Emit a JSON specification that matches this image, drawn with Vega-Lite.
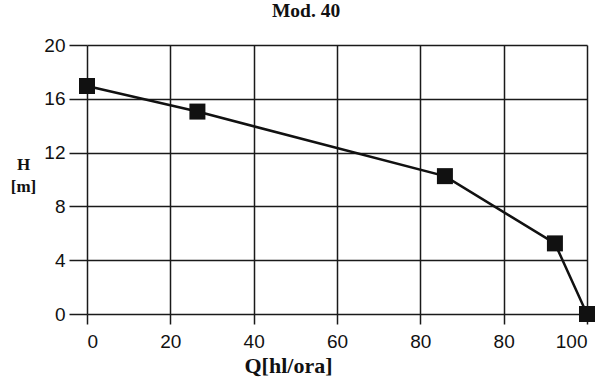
{
  "$schema": "https://vega.github.io/schema/vega-lite/v6.json",
  "width": 500,
  "height": 269,
  "autosize": {"type": "none"},
  "padding": {"left": 87, "top": 45, "right": 19, "bottom": 64},
  "background": "white",
  "title": {
    "text": "Mod. 40",
    "font": "Liberation Serif",
    "fontSize": 19.5,
    "fontWeight": "bold",
    "color": "#111",
    "anchor": "middle",
    "dx": -31,
    "offset": 15
  },
  "config": {
    "view": {"stroke": null},
    "axis": {
      "labelFont": "Liberation Sans",
      "labelFontSize": 19,
      "labelColor": "#111",
      "gridColor": "#1a1a1a",
      "gridWidth": 1.5,
      "gridOpacity": 1,
      "tickColor": "#1a1a1a",
      "tickWidth": 1.5,
      "domain": false,
      "titleFont": "Liberation Serif",
      "titleFontWeight": "bold",
      "titleColor": "#111"
    }
  },
  "data": {
    "values": [
      {"Q": 0, "H": 16.95},
      {"Q": 26.5, "H": 15.05},
      {"Q": 85.9, "H": 10.25},
      {"Q": 112.3, "H": 5.25},
      {"Q": 120, "H": 0}
    ]
  },
  "encoding": {
    "x": {
      "field": "Q",
      "type": "quantitative",
      "scale": {"domain": [0, 120], "nice": false, "zero": false},
      "axis": {
        "values": [0, 20, 40, 60, 80, 100, 120],
        "labelExpr": "datum.value == 100 ? '80' : datum.value == 120 ? '100' : datum.label",
        "tickSize": 10,
        "labelPadding": 8,
        "title": "Q[hl/ora]",
        "titleFontSize": 22,
        "titleX": 201,
        "titleY": 58,
        "titleBaseline": "alphabetic",
        "titleAlign": "center"
      }
    },
    "y": {
      "field": "H",
      "type": "quantitative",
      "scale": {"domain": [0, 20], "nice": false},
      "axis": {
        "values": [0, 4, 8, 12, 16, 20],
        "tickSize": 18,
        "labelPadding": 4,
        "title": ["H", "[m]"],
        "titleFontSize": 17,
        "titleAngle": 0,
        "titleAlign": "center",
        "titleBaseline": "alphabetic",
        "titleX": -64,
        "titleY": 124,
        "titleLineHeight": 22
      }
    }
  },
  "layer": [
    {"mark": {"type": "line", "color": "#111", "strokeWidth": 2.5}},
    {"mark": {"type": "square", "color": "#111", "size": 256, "opacity": 1, "filled": true}}
  ]
}
